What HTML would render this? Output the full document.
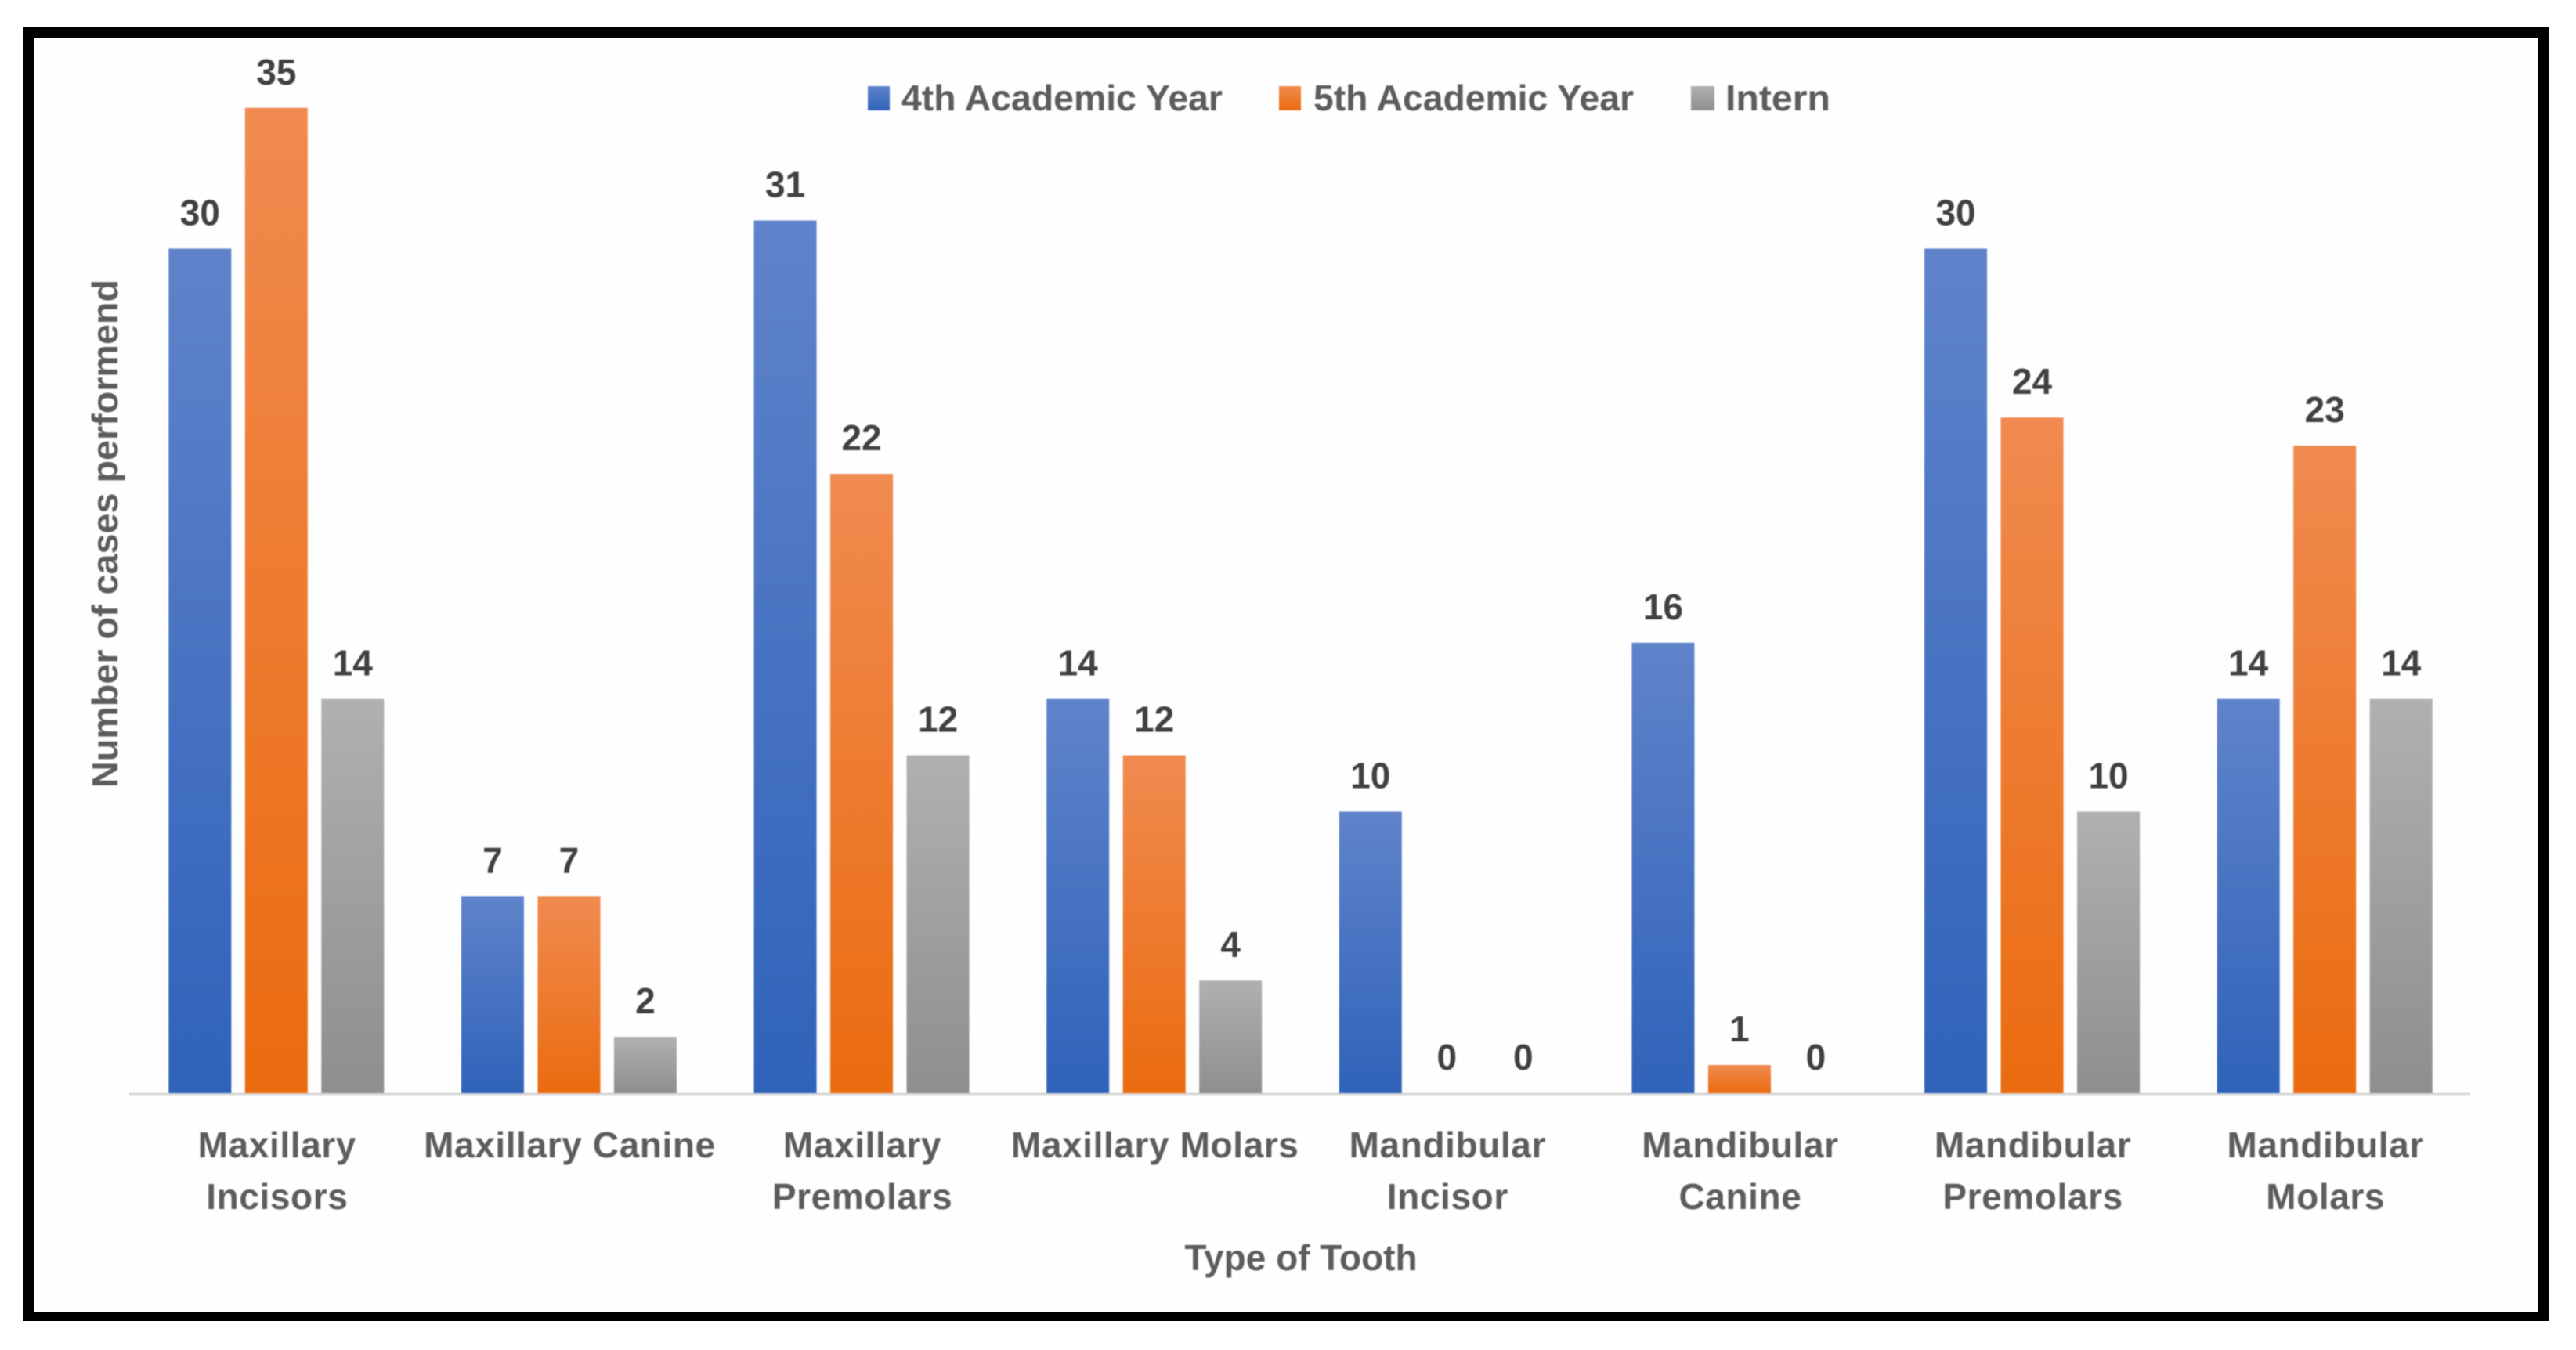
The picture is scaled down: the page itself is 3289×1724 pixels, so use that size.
<!DOCTYPE html>
<html lang="en">
<head>
<meta charset="utf-8">
<title>Number of cases performed by type of tooth</title>
<style>
  html, body { margin: 0; padding: 0; background: #ffffff; }
  body { width: 3289px; height: 1724px; overflow: hidden; }
  svg { display: block; }
  text { font-family: "Liberation Sans", sans-serif; font-weight: bold; font-size: 46px; fill: #5c5c5c; filter: blur(0.9px); }
  .value { fill: #404040; text-anchor: middle; }
  .category { letter-spacing: 0.6px; }
  .mark { filter: blur(0.8px); }
</style>
</head>
<body>
<svg id="chart" xmlns="http://www.w3.org/2000/svg" width="3289" height="1724" viewBox="0 0 3289 1724">
  <defs>
    <linearGradient id="grad-blue" x1="0" y1="0" x2="0" y2="1"><stop offset="0" stop-color="#5f83ca"/><stop offset="1" stop-color="#2f62b9"/></linearGradient>
    <linearGradient id="grad-orange" x1="0" y1="0" x2="0" y2="1"><stop offset="0" stop-color="#f08a50"/><stop offset="1" stop-color="#ea6b0f"/></linearGradient>
    <linearGradient id="grad-gray" x1="0" y1="0" x2="0" y2="1"><stop offset="0" stop-color="#b0b0b0"/><stop offset="1" stop-color="#8e8e8e"/></linearGradient>
  </defs>
  <rect x="30" y="35" width="3225" height="1652" fill="#000000"/>
  <rect x="43" y="49" width="3198" height="1626" fill="#fefefe"/>
  <line x1="165" y1="1397" x2="3154" y2="1397" stroke="#d9d9d9" stroke-width="3"/>

  <g>
    <g>
      <rect class="mark" x="1108" y="110" width="28" height="31" fill="url(#grad-blue)"/>
      <text x="1151" y="141" textLength="410" lengthAdjust="spacingAndGlyphs">4th Academic Year</text>
    </g>
    <g>
      <rect class="mark" x="1677" y="110" width="28" height="31" fill="none"/>
      <rect class="mark" x="1633" y="110" width="28" height="31" fill="url(#grad-orange)"/>
      <text x="1677" y="141" textLength="409" lengthAdjust="spacingAndGlyphs">5th Academic Year</text>
    </g>
    <g>
      <rect class="mark" x="2159" y="110" width="30" height="31" fill="url(#grad-gray)"/>
      <text x="2203" y="141" textLength="134" lengthAdjust="spacingAndGlyphs">Intern</text>
    </g>
  </g>

  <text transform="translate(150,1006) rotate(-90)" textLength="649" lengthAdjust="spacingAndGlyphs">Number of cases performend</text>
  <text x="1661" y="1622" text-anchor="middle">Type of Tooth</text>

  <g id="bars"></g>
  <g id="values"></g>
  <g id="categories"></g>
</svg>
<script>
const categories = [
  ["Maxillary", "Incisors"],
  ["Maxillary Canine"],
  ["Maxillary", "Premolars"],
  ["Maxillary Molars"],
  ["Mandibular", "Incisor"],
  ["Mandibular", "Canine"],
  ["Mandibular", "Premolars"],
  ["Mandibular", "Molars"]
];
const fourthYear = [30, 7, 31, 14, 10, 16, 30, 14];
const fifthYear = [35, 7, 22, 12, 0, 1, 24, 23];
const intern = [14, 2, 12, 4, 0, 0, 10, 14];

const seriesValues = [fourthYear, fifthYear, intern];
const seriesFills = ["url(#grad-blue)", "url(#grad-orange)", "url(#grad-gray)"];
const seriesKeys = ["4th-year", "5th-year", "intern"];

const SVG_NS = "http://www.w3.org/2000/svg";
const axisLeft = 165, axisRight = 3154, baseline = 1396, unitHeight = 35.95;
const barStep = 97.5, barWidth = 80, groupShift = 1;

function xBand(i) {
  return axisLeft + (axisRight - axisLeft) / categories.length * (i + 0.5);
}
function yValue(v) {
  return baseline - v * unitHeight;
}

const barsGroup = document.getElementById("bars");
const valuesGroup = document.getElementById("values");
const categoriesGroup = document.getElementById("categories");

seriesValues.forEach(function (values, s) {
  values.forEach(function (v, i) {
    const cx = xBand(i) + groupShift + (s - 1) * barStep;
    const rect = document.createElementNS(SVG_NS, "rect");
    rect.setAttribute("class", "mark");
    rect.setAttribute("x", cx - barWidth / 2);
    rect.setAttribute("y", yValue(v));
    rect.setAttribute("width", barWidth);
    rect.setAttribute("height", baseline - yValue(v));
    rect.setAttribute("fill", seriesFills[s]);
    
    
    barsGroup.appendChild(rect);

    const label = document.createElementNS(SVG_NS, "text");
    label.setAttribute("class", "value");
    label.setAttribute("x", cx);
    label.setAttribute("y", yValue(v) - 30);
    label.textContent = String(v);
    
    
    valuesGroup.appendChild(label);
  });
});

categories.forEach(function (lines, i) {
  lines.forEach(function (line, l) {
    const t = document.createElementNS(SVG_NS, "text");
    t.setAttribute("class", "category");
    t.setAttribute("x", xBand(i) + 2);
    t.setAttribute("y", 1478 + l * 66);
    t.setAttribute("text-anchor", "middle");
    t.textContent = line;
    
    
    categoriesGroup.appendChild(t);
  });
});
</script>
</body>
</html>
